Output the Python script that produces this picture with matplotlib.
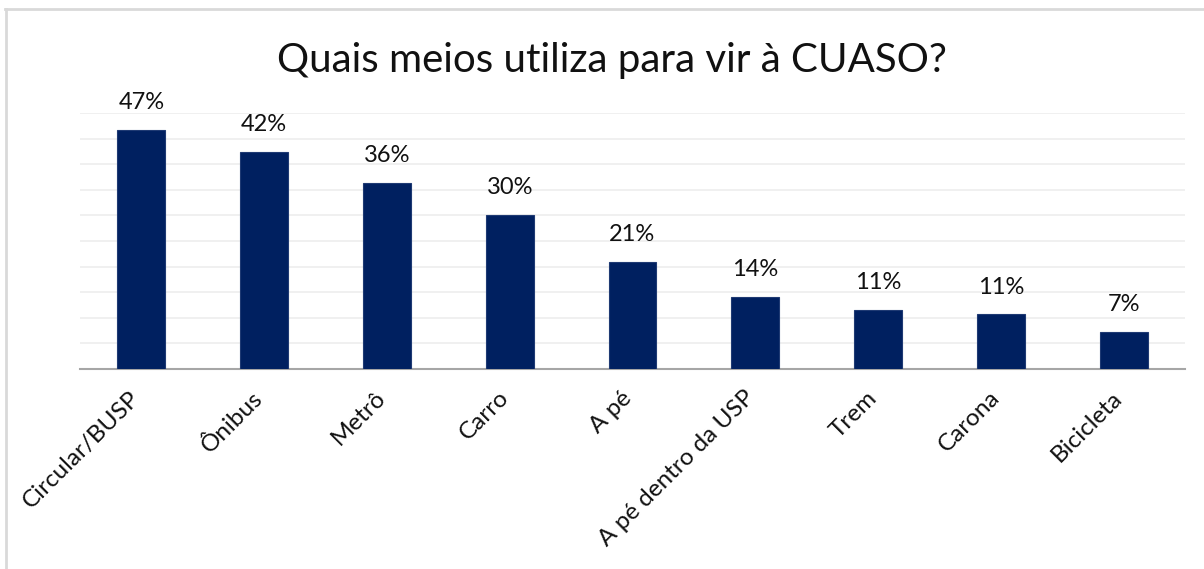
import matplotlib
matplotlib.use('Agg')
import matplotlib.pyplot as plt
import matplotlib.transforms as mtransforms
from matplotlib.lines import Line2D

plt.rcParams['font.family'] = ['Lato', 'DejaVu Sans']

# dados
meios = ['Circular/BUSP', 'Ônibus', 'Metrô', 'Carro', 'A pé',
         'A pé dentro da USP', 'Trem', 'Carona', 'Bicicleta']
percentuais = [46.7, 42.4, 36.3, 30.1, 20.9, 14.1, 11.5, 10.7, 7.2]
rotulos = ['47%', '42%', '36%', '30%', '21%', '14%', '11%', '11%', '7%']
titulo = 'Quais meios utiliza para vir à CUASO?'

fig = plt.figure(figsize=(12.04, 5.69), dpi=100)
ax = fig.add_axes([80 / 1204, 1 - 369 / 569, 1105 / 1204, 256 / 569])

x = range(len(meios))
bars = ax.bar(x, percentuais, width=0.39, color='#002060', edgecolor='#1f3a73',
              linewidth=0.8, zorder=3)

for b, r in zip(bars, rotulos):
    ax.annotate(r, (b.get_x() + b.get_width() / 2, b.get_height()),
                xytext=(0, 12), textcoords='offset points',
                ha='center', va='bottom', fontsize=17, color='#111111')

ax.set_xlim(-0.5, len(meios) - 0.5)
ax.set_ylim(0, 50)
ax.set_yticks(range(0, 51, 5))
ax.yaxis.grid(True, color='#eeeeee', linewidth=1.2, zorder=0)
ax.tick_params(axis='y', left=False, labelleft=False)
ax.tick_params(axis='x', length=0, pad=13)
ax.set_xticks(list(x))
ax.set_xticklabels(meios, rotation=45, ha='right', va='top',
                   rotation_mode='anchor', fontsize=17.5, color='#111111')
# desloca um pouco os rótulos para a esquerda, como no original
desloc = mtransforms.ScaledTranslation(-0.12, 0, fig.dpi_scale_trans)
for lbl in ax.get_xticklabels():
    lbl.set_transform(lbl.get_transform() + desloc)
for s in ['top', 'right', 'left']:
    ax.spines[s].set_visible(False)
ax.spines['bottom'].set_color('#a6a6a6')
ax.spines['bottom'].set_linewidth(1.5)

fig.text(612 / 1204, 1 - 72 / 569, titulo, ha='center', va='baseline',
         fontsize=29, color='#111111')

# moldura cinza do gráfico
fig.add_artist(Line2D([5.5 / 1204, 5.5 / 1204], [0, 1 - 9 / 569],
                      color='#d9d9d9', linewidth=2, transform=fig.transFigure))
fig.add_artist(Line2D([5 / 1204, 1], [1 - 9 / 569, 1 - 9 / 569],
                      color='#d9d9d9', linewidth=2, transform=fig.transFigure))

plt.savefig('out.png', dpi=100)
